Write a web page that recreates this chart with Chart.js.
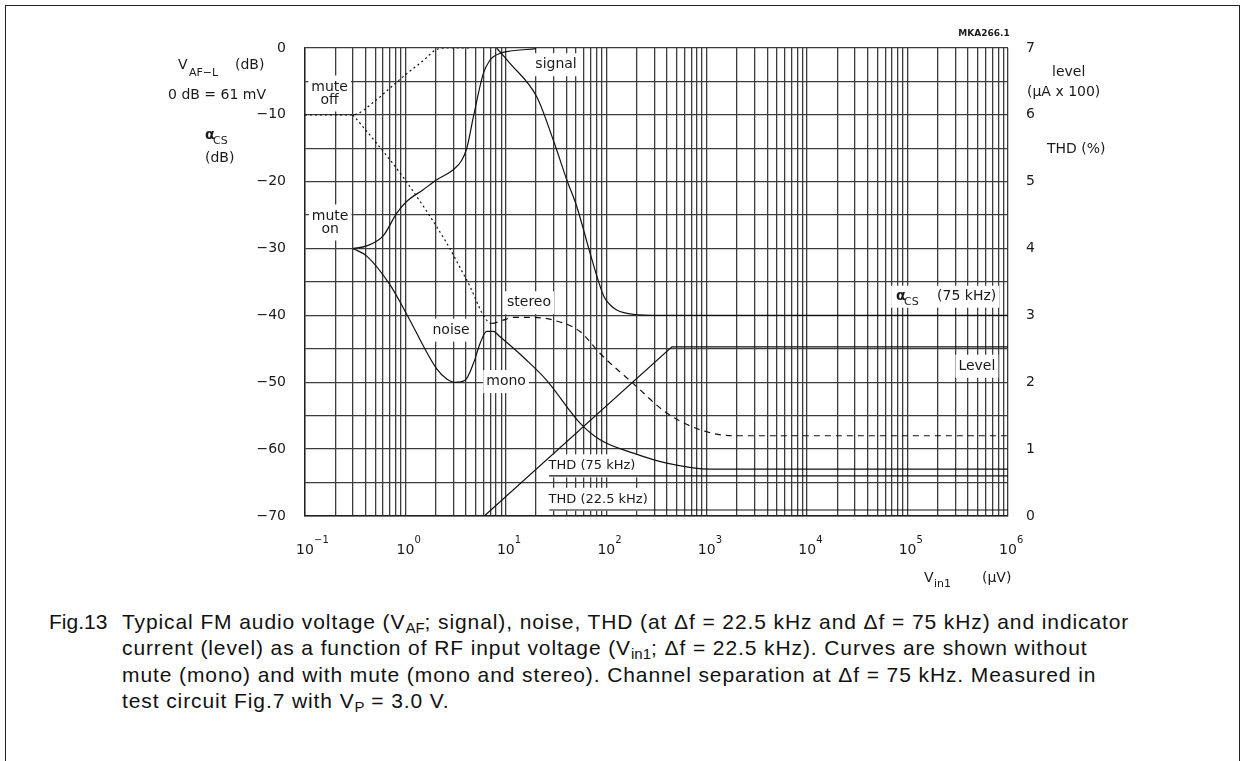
<!DOCTYPE html>
<html>
<head>
<meta charset="utf-8">
<script src="https://cdn.jsdelivr.net/npm/chart.js@4.4.0/dist/chart.umd.min.js"></script>
<style>
  body{margin:0;background:#fff;overflow:hidden;}
  #frame{position:absolute;left:5px;top:5px;width:1233px;height:770px;border:1px solid #222;}
  #c{position:absolute;left:0;top:0;}
  #cap{position:absolute;left:49px;top:609px;font:21px "Liberation Sans",Arial,sans-serif;letter-spacing:0.9px;line-height:26.4px;color:#111;padding-left:73px;text-indent:-73px;white-space:nowrap;}
  #cap .fig{display:inline-block;width:73px;text-indent:0;letter-spacing:0;}
  #cap sub{font-size:15px;vertical-align:-4px;line-height:0;letter-spacing:0;}
</style>
</head>
<body>
<div id="frame"></div>
<canvas id="c" width="1245" height="600"></canvas>
<div id="cap"><span class="fig">Fig.13</span>Typical FM audio voltage (V<sub>AF</sub>; signal), noise, THD (at &Delta;f = 22.5 kHz and &Delta;f = 75 kHz) and indicator<br>current (level) as a function of RF input voltage (V<sub>in1</sub>; &Delta;f = 22.5 kHz). Curves are shown without<br>mute (mono) and with mute (mono and stereo). Channel separation at &Delta;f = 75 kHz. Measured in<br>test circuit Fig.7 with V<sub>P</sub> = 3.0 V.</div>
<script>
// values (x in uV, y in dB unless noted)
const xDecades = [-1, 0, 1, 2, 3, 4, 5, 6];
const yTicksLeft = [0, -10, -20, -30, -40, -50, -60, -70];
const yTicksRight = [0, 1, 2, 3, 4, 5, 6, 7];

// signal without mute (dotted)
const muteOffX = [0.1, 0.3, 0.5, 0.7, 1, 1.5, 2, 2.5, 4.5];
const muteOffY = [-10, -10, -7.9, -6.0, -4.0, -1.9, -0.3, 0, 0];

// signal with mute
const signalX = [0.3, 0.41, 0.6, 0.82, 1.02, 1.5, 2.05, 3.0, 3.64, 4.08, 4.75, 5.97, 6.96, 7.5, 8.76, 10.2, 20];
const signalY = [-30, -29.6, -28.1, -24.7, -23.0, -21.2, -19.7, -18.2, -16.8, -15.0, -10.3, -3.8, -1.8, -1.3, -0.8, -0.55, -0.1];

// noise, mono
const noiseX = [0.3, 0.41, 0.7, 1.02, 2.05, 2.58, 3.12, 3.93, 4.75, 5.53, 6.45, 7.5, 8.75, 16.1, 25.5, 54.8, 86.7, 186, 400, 1080, 1e6];
const noiseY = [-30, -31.1, -35.4, -39.7, -48.0, -49.5, -50.0, -49.7, -47.2, -44.2, -42.4, -42.4, -43.2, -46.7, -49.7, -56.1, -58.6, -60.6, -62.1, -63.0, -63.0];

// noise, stereo (dotted then dashed)
const stereoX = [0.3, 0.52, 0.99, 2.58, 4.08, 7.23, 9.4, 11.9, 18.8, 29.7, 54.8, 86.7, 186, 400, 859, 1845, 1e6];
const stereoY = [-10, -14.3, -19.7, -29.2, -34.7, -41.2, -40.7, -40.3, -40.3, -40.7, -42.4, -45.7, -50.2, -54.6, -57.1, -58.0, -58.0];

// channel separation alpha_cs (75 kHz)
const sepX = [8.1, 11.0, 20.3, 29.7, 40.4, 50.8, 69, 82.8, 95, 109, 127, 186, 340, 1e6];
const sepY = [0, -2.3, -7.3, -13.8, -19.7, -23.7, -30.7, -34.7, -37.2, -38.4, -39.2, -39.85, -40, -40];

// right axis: level (uA x 100) and THD (%)
const levelX = [6.1, 450, 1e6];
const levelY = [0, 2.53, 2.53];
const thd75X = [27, 1e6];
const thd75Y = [0.6, 0.6];
const thd22X = [27, 1e6];
const thd22Y = [0.09, 0.09];

const gridX = [];
xDecades.forEach(d => {
  for (let m = 1; m <= 9; m++) {
    if (d === 6 && m > 1) break;
    gridX.push(m * Math.pow(10, d));
  }
});

const pts = (xs, ys) => xs.map((x, i) => ({x: x, y: ys[i]}));

const FONT = '"DejaVu Sans", sans-serif';
const INK = '#1a1a1a';

// in-plot labels with white boxes, positioned in data units
const plotLabels = [
  {lines: ['mute', 'off'], x: 0.176, y: -6.8, size: 14},
  {lines: ['mute', 'on'], x: 0.178, y: -26.1, size: 14},
  {lines: ['signal'], x: 31.6, y: -2.5, size: 14},
  {lines: ['stereo'], x: 17.0, y: -38.1, size: 14},
  {lines: ['noise'], x: 2.85, y: -42.2, size: 14},
  {lines: ['mono'], x: 10.05, y: -49.9, size: 14},
  {lines: ['THD (75 kHz)'], x: 72, y: -62.5, size: 13},
  {lines: ['THD (22.5 kHz)'], x: 83, y: -67.5, size: 13},
  {lines: ['Level'], x: 4.9e5, y: -47.6, size: 14}
];

function text(c, s, x, y, font, align) {
  c.font = font;
  c.textAlign = align || 'left';
  c.textBaseline = 'middle';
  c.fillText(s, x, y);
}

const decor = {
  id: 'decor',
  beforeDatasetsDraw(chart) {
    const c = chart.ctx, xs = chart.scales.x, ys = chart.scales.y;
    c.save();
    plotLabels.forEach(l => {
      const px = xs.getPixelForValue(l.x), py = ys.getPixelForValue(l.y);
      c.font = l.size + 'px ' + FONT;
      const w = Math.max(...l.lines.map(s => c.measureText(s).width));
      const lh = 13, h = l.lines.length * lh;
      c.fillStyle = '#fff';
      c.fillRect(px - w / 2 - 3, py - h / 2 - 5, w + 6, h + 10);
      c.fillStyle = INK;
      l.lines.forEach((s, i) => text(c, s, px, py - h / 2 + lh / 2 + i * lh, l.size + 'px ' + FONT, 'center'));
    });
    // alpha_cs (75 kHz)
    const ax = xs.getPixelForValue(2.42e5), ay = ys.getPixelForValue(-37.2);
    c.fillStyle = '#fff';
    c.fillRect(ax - 55, ay - 11, 108, 22);
    c.fillStyle = INK;
    text(c, '\u03b1', ax - 50, ay, 'bold 14px ' + FONT);
    text(c, 'CS', ax - 42, ay + 5, '11px ' + FONT);
    text(c, '(75 kHz)', ax - 9, ay, '14px ' + FONT);
    c.restore();
  },
  afterDraw(chart) {
    const c = chart.ctx, xs = chart.scales.x, ys = chart.scales.y, y2 = chart.scales.y2;
    c.save();
    c.fillStyle = INK;
    yTicksLeft.forEach(v => text(c, v === 0 ? '0' : '\u2212' + Math.abs(v), 286, ys.getPixelForValue(v), '14px ' + FONT, 'right'));
    yTicksRight.forEach(v => text(c, String(v), 1026, y2.getPixelForValue(v), '14px ' + FONT, 'left'));
    xDecades.forEach(d => {
      const px = xs.getPixelForValue(Math.pow(10, d));
      text(c, '10', px, 550, '14px ' + FONT, 'center');
      text(c, d < 0 ? '\u2212' + Math.abs(d) : String(d), px + 9, 540, '10px ' + FONT, 'left');
    });
    // left titles
    text(c, 'V', 178, 65, '14px ' + FONT);
    text(c, 'AF\u2212L', 189, 73, '11px ' + FONT);
    text(c, '(dB)', 235, 65, '14px ' + FONT);
    text(c, '0 dB = 61 mV', 217, 95, '14px ' + FONT, 'center');
    text(c, '\u03b1', 205, 135, 'bold 14px ' + FONT);
    text(c, 'CS', 213, 141, '11px ' + FONT);
    text(c, '(dB)', 205, 158, '14px ' + FONT);
    // right titles
    text(c, 'level', 1052, 72, '14px ' + FONT);
    text(c, '(\u00b5A x 100)', 1027, 92, '14px ' + FONT);
    text(c, 'THD (%)', 1047, 149, '14px ' + FONT);
    // x title
    text(c, 'V', 924, 578, '14px ' + FONT);
    text(c, 'in1', 934, 584, '11px ' + FONT);
    text(c, '(\u00b5V)', 982, 578, '14px ' + FONT);
    text(c, 'MKA266.1', 984, 34, 'bold 9px ' + FONT, 'center');
    c.restore();
  }
};

const base = {borderColor: '#111', borderWidth: 1.2, pointRadius: 0, fill: false, cubicInterpolationMode: 'monotone'};

new Chart(document.getElementById('c'), {
  type: 'line',
  data: {
    datasets: [
      Object.assign({}, base, {data: pts(muteOffX, muteOffY), borderDash: [2, 3]}),
      Object.assign({}, base, {data: pts(signalX, signalY)}),
      Object.assign({}, base, {data: pts(noiseX, noiseY)}),
      Object.assign({}, base, {data: pts(stereoX, stereoY),
        segment: {borderDash: ctx => ctx.p0.parsed.x < 7 ? [2, 3] : [6, 5]}}),
      Object.assign({}, base, {data: pts(sepX, sepY)}),
      Object.assign({}, base, {data: pts(levelX, levelY), yAxisID: 'y2', cubicInterpolationMode: 'default', tension: 0}),
      Object.assign({}, base, {data: pts(thd75X, thd75Y), yAxisID: 'y2', tension: 0}),
      Object.assign({}, base, {data: pts(thd22X, thd22Y), yAxisID: 'y2', tension: 0})
    ]
  },
  options: {
    responsive: false,
    animation: false,
    layout: {padding: {left: 305, right: 237, top: 48, bottom: 84}},
    plugins: {legend: {display: false}, tooltip: {enabled: false}},
    scales: {
      x: {
        type: 'logarithmic', min: 0.1, max: 1e6,
        afterBuildTicks: s => { s.ticks = gridX.map(v => ({value: v})); },
        ticks: {display: false},
        grid: {color: '#3c3c3c', lineWidth: 1.3, drawTicks: false},
        border: {color: '#222', width: 1.4}
      },
      y: {
        min: -70, max: 0,
        ticks: {display: false, stepSize: 5},
        grid: {color: '#3c3c3c', lineWidth: 1.3, drawTicks: false},
        border: {color: '#222', width: 1.4}
      },
      y2: {display: false, position: 'right', min: 0, max: 7}
    }
  },
  plugins: [decor]
});
</script>
</body>
</html>
